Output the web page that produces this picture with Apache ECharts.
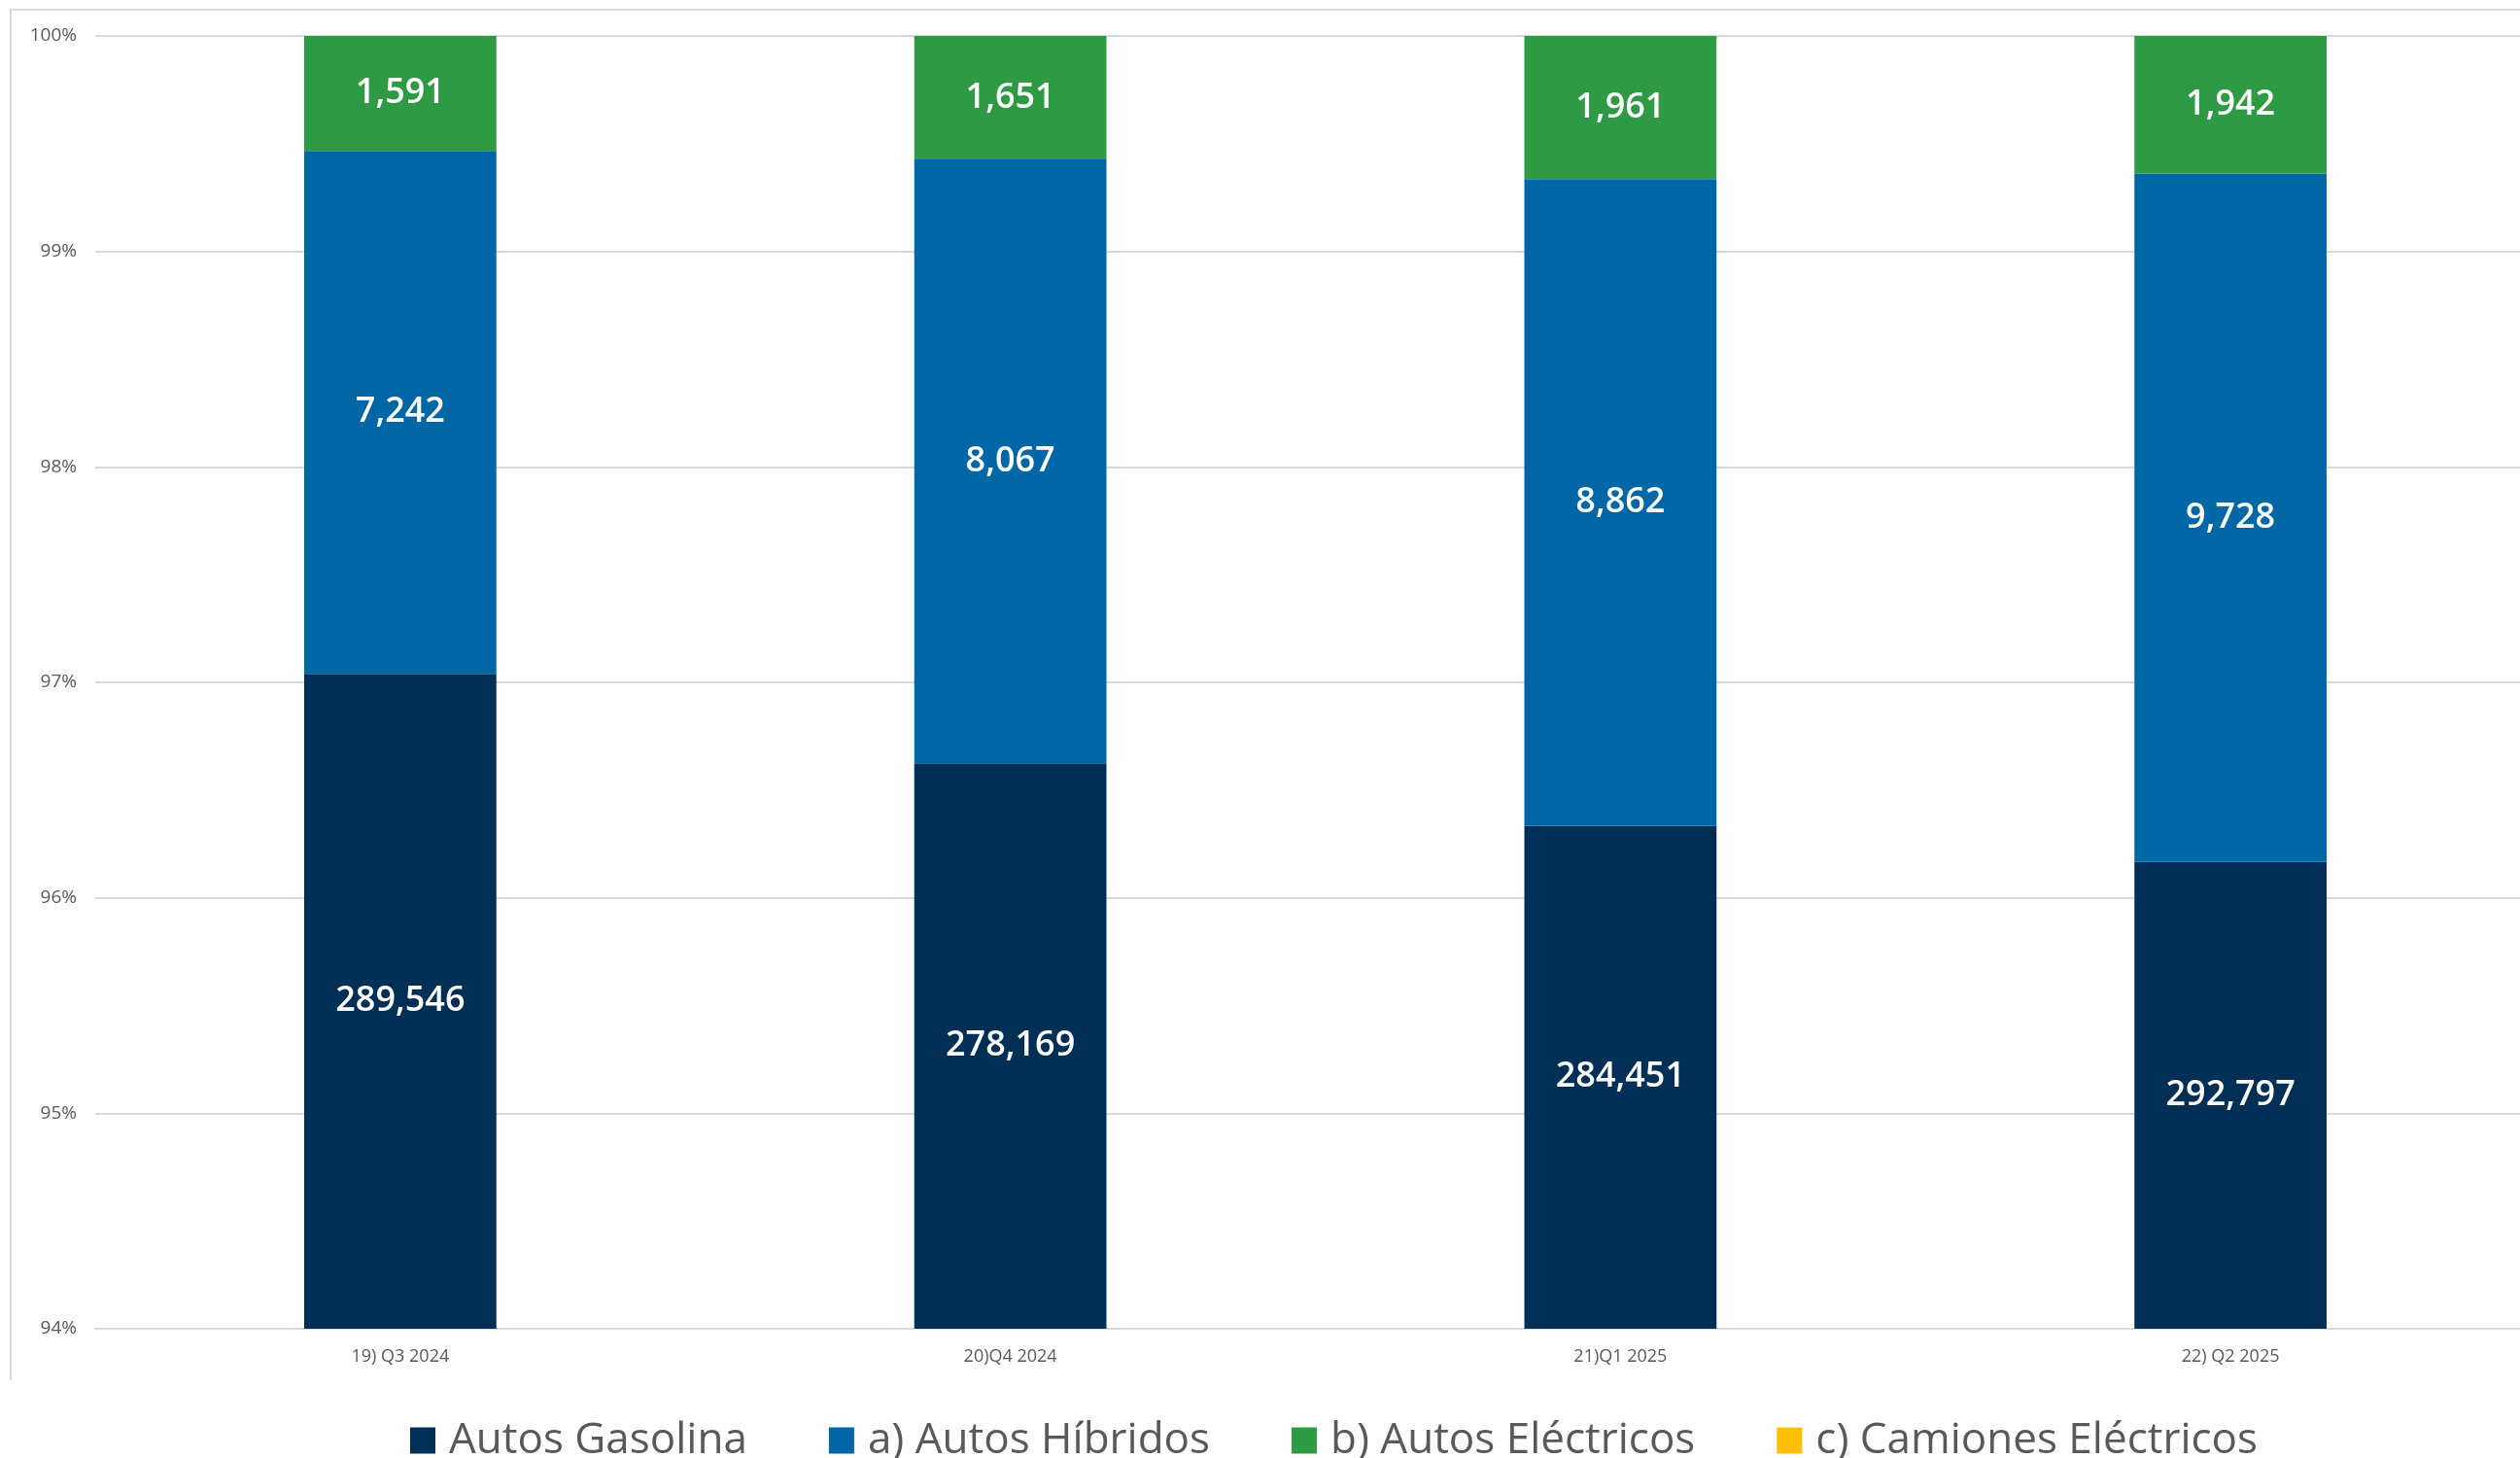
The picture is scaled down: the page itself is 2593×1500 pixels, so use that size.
<!DOCTYPE html>
<html>
<head>
<meta charset="utf-8">
<script src="https://cdn.jsdelivr.net/npm/echarts@6/dist/echarts.min.js"></script>
<style>
html,body{margin:0;padding:0;background:#fff;overflow:hidden;}
#chart{width:2610px;height:1500px;}
</style>
</head>
<body>
<div id="chart"></div>
<script>
var categories = ['19) Q3 2024', '20)Q4 2024', '21)Q1 2025', '22) Q2 2025'];
var autosGasolina = [289546, 278169, 284451, 292797];
var autosHibridos = [7242, 8067, 8862, 9728];
var autosElectricos = [1591, 1651, 1961, 1942];
var camionesElectricos = [0, 0, 0, 0];
var seriesNames = ['Autos Gasolina', 'a) Autos Híbridos', 'b) Autos Eléctricos', 'c) Camiones Eléctricos'];
var seriesColors = ['#002F56', '#0067A7', '#2E9A43', '#FFC000'];
var yTicks = [94, 95, 96, 97, 98, 99, 100];

var raw = [autosGasolina, autosHibridos, autosElectricos, camionesElectricos];
var totals = categories.map(function (c, i) {
  return raw.reduce(function (s, arr) { return s + arr[i]; }, 0);
});

var FONT = 'Open Sans';
var series = raw.map(function (arr, k) {
  return {
    name: seriesNames[k],
    type: 'bar',
    stack: 'total',
    barWidth: '31.5%',
    itemStyle: { color: seriesColors[k] },
    label: {
      show: k < 3,
      position: 'inside',
      color: '#ffffff',
      fontFamily: FONT,
      fontSize: 36,
      fontWeight: 600,
      formatter: function (p) { return arr[p.dataIndex].toLocaleString('en-US'); }
    },
    data: arr.map(function (v, i) { return v / totals[i] * 100; })
  };
});

var chart = echarts.init(document.getElementById('chart'), null, { renderer: 'canvas' });
chart.setOption({
  backgroundColor: '#ffffff',
  animation: false,
  graphic: [{
    type: 'polyline',
    shape: { points: [[11, 1420], [11, 10], [2610, 10]] },
    style: { stroke: '#d9d9d9', lineWidth: 2, fill: null }
  }],
  legend: {
    left: 417,
    top: 1455,
    itemWidth: 26,
    itemHeight: 27,
    itemGap: 84,
    icon: 'rect',
    textStyle: { fontFamily: FONT, fontSize: 44, color: '#595959', padding: [0, 0, 0, 9] },
    data: seriesNames
  },
  grid: { left: 98, top: 37, width: 2511, height: 1330, containLabel: false },
  xAxis: {
    type: 'category',
    data: categories,
    axisTick: { show: false },
    axisLine: { lineStyle: { color: '#d9d9d9', width: 2 } },
    axisLabel: { fontFamily: FONT, fontSize: 18, color: '#595959', margin: 20 }
  },
  yAxis: {
    type: 'value',
    min: yTicks[0],
    max: yTicks[yTicks.length - 1],
    interval: 1,
    axisLine: { show: false },
    axisTick: { show: false },
    splitLine: { lineStyle: { color: '#d9d9d9', width: 2 } },
    axisLabel: { fontFamily: FONT, fontSize: 19, color: '#595959', margin: 19, formatter: '{value}%' }
  },
  series: series
});
</script>
</body>
</html>
